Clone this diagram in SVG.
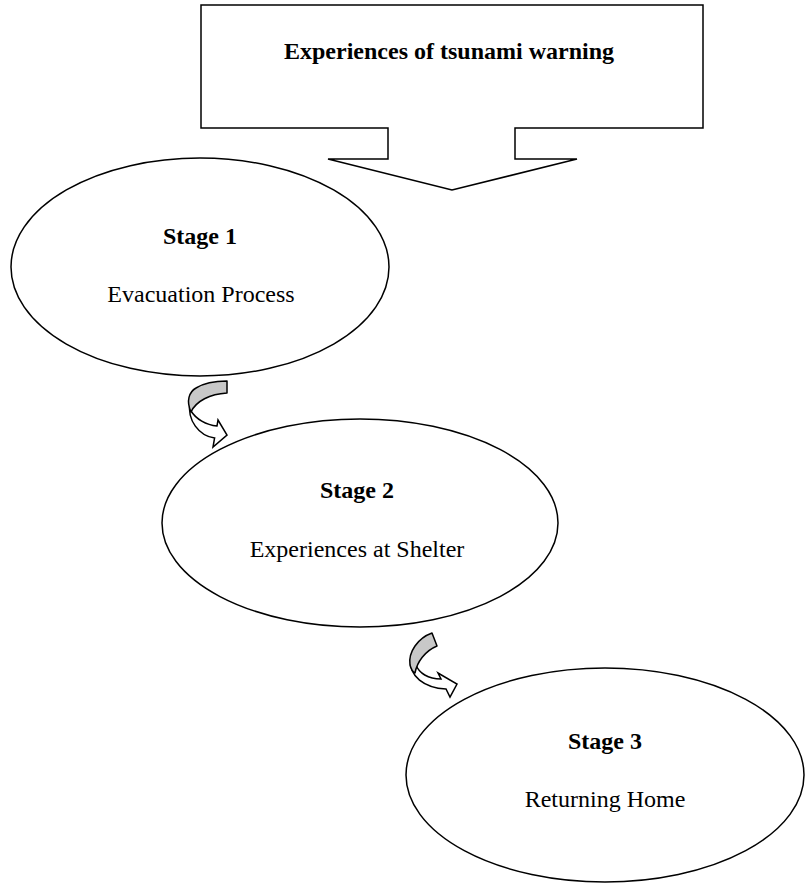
<svg xmlns="http://www.w3.org/2000/svg" width="809" height="888" viewBox="0 0 809 888">
<style>
.shape{fill:#fff;stroke:#000;stroke-width:1.5}
.back{fill:#c8c8c8;stroke:#000;stroke-width:1.5;stroke-linejoin:round}
.front{fill:#fff;stroke:#000;stroke-width:1.5;stroke-linejoin:miter}
.t{font-family:"Liberation Serif","Times New Roman",serif;font-size:24px;fill:#000;text-anchor:middle}
.b{font-weight:bold}
</style>
<rect width="809" height="888" fill="#fff"/>
<g id="title">
<polygon class="shape" points="201,5 703,5 703,128 515,128 515,159 577,159 452,190 328,159 388,159 388,128 201,128"/>
<text class="t b" x="449" y="59">Experiences of tsunami warning</text>
</g>
<g id="stage1">
<ellipse class="shape" cx="200" cy="267" rx="189" ry="109"/>
<text class="t b" x="200" y="244">Stage 1</text>
<text class="t" x="201" y="302">Evacuation Process</text>
</g>
<g id="stage2">
<ellipse class="shape" cx="360" cy="523" rx="198" ry="104"/>
<text class="t b" x="357" y="498">Stage 2</text>
<text class="t" x="357" y="557">Experiences at Shelter</text>
</g>
<g id="stage3">
<ellipse class="shape" cx="605" cy="775" rx="199" ry="107"/>
<text class="t b" x="605" y="749">Stage 3</text>
<text class="t" x="605" y="807">Returning Home</text>
</g>
<g id="connectors">
<path class="front" d="M190,403 C187,420 199,436 214.6,438 L213,447 L227,435 L218,420 L217,426 C206,425 196,419 191,411 Z"/>
<path class="back" d="M227,381 L227,393 C210,394 196,401 191,412 C186,401 189,392 196,388 C204,383 215,381 227,381 Z"/>
<path class="front" d="M411,660 C409,676 424,688 446,689 L450,697 L457,684 L438,673 L441,679 C428,679 419,673 416,665 Z"/>
<path class="back" d="M432,633 C418,638 408,652 410,665 C411,669 413,672 415,673 C417,662 425,651 437,646 Z"/>
</g>
</svg>
